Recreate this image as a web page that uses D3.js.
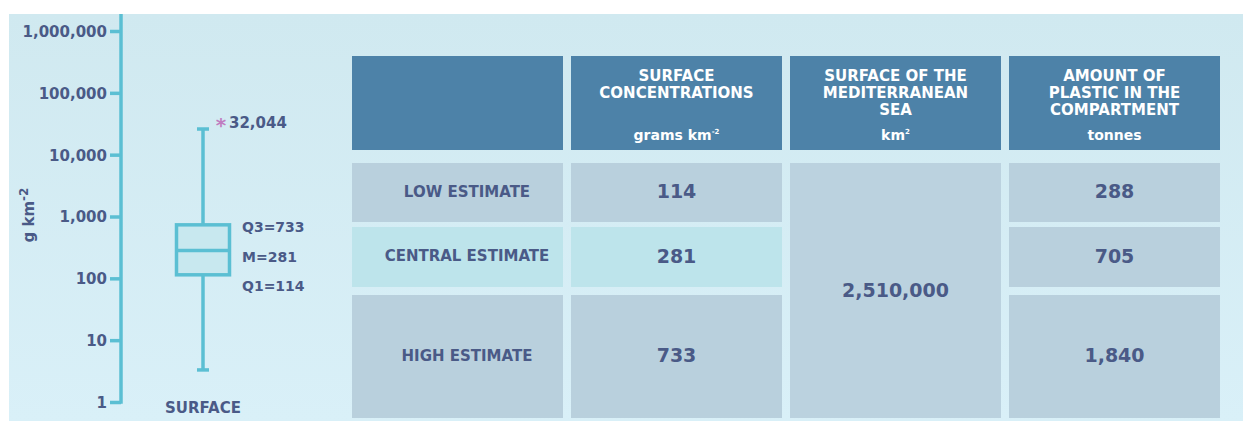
<!DOCTYPE html>
<html>
<head>
<meta charset="utf-8">
<script src="https://cdn.jsdelivr.net/npm/d3@7"></script>
<style>
    html, body { margin: 0; padding: 0; background: #ffffff; }
    svg { display: block; }
    text { font-family: "DejaVu Sans", sans-serif; font-weight: bold; }
</style>
</head>
<body>
<div id="chart"></div>
<script>
// Box plot values (g km-2)
const axisTicks = [1, 10, 100, 1000, 10000, 100000, 1000000];
const boxStats = { low: 3.3, q1: 114, median: 281, q3: 733, high: 26000 };
const outlierValue = 32044;
const boxLabels = ["Q3=733", "M=281", "Q1=114"];
const boxCategory = "SURFACE";

// Table values
const headerLines = [
    [],
    ["SURFACE", "CONCENTRATIONS"],
    ["SURFACE OF THE", "MEDITERRANEAN", "SEA"],
    ["AMOUNT OF", "PLASTIC IN THE", "COMPARTMENT"]
];
const headerUnits = [
    null,
    { base: "grams km", sup: "-2" },
    { base: "km", sup: "2" },
    { base: "tonnes", sup: "" }
];
const rowLabels = ["LOW ESTIMATE", "CENTRAL ESTIMATE", "HIGH ESTIMATE"];
const concentrations = [114, 281, 733];
const seaSurface = 2510000;
const plasticTonnes = [288, 705, 1840];

const width = 1243;
const height = 421;
const textColor = "#4a5a87";
const cyan = "#5bbfd3";
const fmt = d3.format(",");

const svg = d3.select("#chart")
    .append("svg")
    .attr("width", width)
    .attr("height", height);

// Background panel with a soft vertical gradient
const grad = svg.append("defs").append("linearGradient")
    .attr("id", "panelGrad")
    .attr("x1", 0).attr("y1", 0).attr("x2", 0).attr("y2", 1);
grad.append("stop").attr("offset", "0%").attr("stop-color", "#d0e9f0");
grad.append("stop").attr("offset", "100%").attr("stop-color", "#d9f0f8");

const panelTop = 14;
svg.append("rect")
    .attr("x", 9).attr("y", panelTop)
    .attr("width", width - 9).attr("height", height - panelTop)
    .attr("fill", "url(#panelGrad)");

// baseline for a text whose cap centre should sit at cy
function capBase(cy, size) {
    return cy + size * 0.36;
}

// ---------- Box plot ----------
const y = d3.scaleLog()
    .domain([1, 1000000])
    .range([402, 31]);

const axisX = 121;
const yAxis = d3.axisLeft(y)
    .tickValues(axisTicks)
    .tickFormat(fmt)
    .tickSize(11)
    .tickSizeOuter(0)
    .tickPadding(3);

const axisG = svg.append("g")
    .attr("transform", `translate(${axisX},0)`)
    .call(yAxis);

axisG.select(".domain").remove();
axisG.selectAll(".tick line")
    .attr("stroke", cyan)
    .attr("stroke-width", 3.5);
axisG.selectAll(".tick text")
    .attr("fill", textColor)
    .attr("font-size", 15)
    .attr("font-family", "DejaVu Sans, sans-serif")
    .attr("font-weight", "bold")
    .attr("dy", "0.36em");

// main vertical axis line, running up to the top of the panel
svg.append("line")
    .attr("x1", axisX).attr("x2", axisX)
    .attr("y1", y(1) + 1.75).attr("y2", panelTop)
    .attr("stroke", cyan)
    .attr("stroke-width", 3.5);

// y axis title
const yTitle = svg.append("text")
    .attr("transform", `translate(34,215) rotate(-90)`)
    .attr("text-anchor", "middle")
    .attr("fill", textColor)
    .attr("font-size", 15);
yTitle.append("tspan").text("g km");
yTitle.append("tspan").attr("dy", -6).attr("font-size", 12).text("-2");

const boxX = 203;
const boxW = 53;
const capW = 12;

const boxG = svg.append("g")
    .attr("stroke", cyan)
    .attr("stroke-width", 3.5)
    .attr("fill", "none");

// whiskers
boxG.append("line")
    .attr("x1", boxX).attr("x2", boxX)
    .attr("y1", y(boxStats.high)).attr("y2", y(boxStats.q3));
boxG.append("line")
    .attr("x1", boxX).attr("x2", boxX)
    .attr("y1", y(boxStats.q1)).attr("y2", y(boxStats.low));
boxG.selectAll(".cap")
    .data([boxStats.high, boxStats.low])
    .enter().append("line")
    .attr("class", "cap")
    .attr("x1", boxX - capW / 2).attr("x2", boxX + capW / 2)
    .attr("y1", d => y(d)).attr("y2", d => y(d));

// box
boxG.append("rect")
    .attr("x", boxX - boxW / 2)
    .attr("y", y(boxStats.q3))
    .attr("width", boxW)
    .attr("height", y(boxStats.q1) - y(boxStats.q3))
    .attr("fill", "#c8e8ef");
boxG.append("line")
    .attr("x1", boxX - boxW / 2).attr("x2", boxX + boxW / 2)
    .attr("y1", y(boxStats.median)).attr("y2", y(boxStats.median));

// outlier marker and value
svg.append("text")
    .attr("x", 221)
    .attr("y", y(outlierValue) + 9)
    .attr("text-anchor", "middle")
    .attr("fill", "#c07cc0")
    .attr("font-size", 20)
    .text("*");
svg.append("text")
    .attr("x", 229)
    .attr("y", capBase(y(outlierValue) - 1, 15))
    .attr("fill", textColor)
    .attr("font-size", 15)
    .text(fmt(outlierValue));

// quartile labels, evenly spaced beside the box
svg.selectAll(".qlabel")
    .data(boxLabels)
    .enter().append("text")
    .attr("class", "qlabel")
    .attr("x", 242)
    .attr("y", (d, i) => capBase(227 + i * 29.5, 14))
    .attr("fill", textColor)
    .attr("font-size", 14)
    .text(d => d);

svg.append("text")
    .attr("x", boxX)
    .attr("y", capBase(408, 15))
    .attr("text-anchor", "middle")
    .attr("fill", textColor)
    .attr("font-size", 15)
    .text(boxCategory);

// ---------- Table ----------
const col = d3.scaleBand()
    .domain(d3.range(4))
    .range([352, 1220])
    .paddingInner(8 / 219)
    .paddingOuter(0);

const header = { y0: 56, y1: 150 };
const rowBounds = [
    { y0: 163, y1: 222 },
    { y0: 227, y1: 287 },
    { y0: 295, y1: 418 }
];
const cellColor = "#b9d0dd";
const centralColor = "#bde4eb";

// header cells
const headG = svg.append("g");
headG.selectAll("rect")
    .data(headerLines)
    .enter().append("rect")
    .attr("x", (d, i) => col(i))
    .attr("y", header.y0)
    .attr("width", col.bandwidth())
    .attr("height", header.y1 - header.y0)
    .attr("fill", "#4d82a8");

headerLines.forEach((lines, i) => {
    const cx = col(i) + col.bandwidth() / 2;
    lines.forEach((line, j) => {
        headG.append("text")
            .attr("x", cx)
            .attr("y", capBase(76 + j * 17, 15))
            .attr("text-anchor", "middle")
            .attr("fill", "#ffffff")
            .attr("font-size", 15)
            .text(line);
    });
    const u = headerUnits[i];
    if (u) {
        const t = headG.append("text")
            .attr("x", cx)
            .attr("y", capBase(135, 14))
            .attr("text-anchor", "middle")
            .attr("fill", "#ffffff")
            .attr("font-size", 14);
        t.append("tspan").text(u.base);
        if (u.sup) t.append("tspan").attr("dy", -6).attr("font-size", 7).text(u.sup);
    }
});

// body cells: row labels, concentrations, tonnes
const bodyG = svg.append("g");
rowLabels.forEach((label, r) => {
    const b = rowBounds[r];
    const cy = (b.y0 + b.y1) / 2;
    const isCentral = r === 1;

    [0, 1, 3].forEach(c => {
        bodyG.append("rect")
            .attr("x", col(c))
            .attr("y", b.y0)
            .attr("width", col.bandwidth())
            .attr("height", b.y1 - b.y0)
            .attr("fill", isCentral && c < 2 ? centralColor : cellColor);
    });

    bodyG.append("text")
        .attr("x", col(0) + 115)
        .attr("y", capBase(cy - 1, 15))
        .attr("text-anchor", "middle")
        .attr("fill", textColor)
        .attr("font-size", 15)
        .text(label);

    bodyG.append("text")
        .attr("x", col(1) + col.bandwidth() / 2)
        .attr("y", capBase(cy - 1, 19))
        .attr("text-anchor", "middle")
        .attr("fill", textColor)
        .attr("font-size", 19)
        .text(fmt(concentrations[r]));

    bodyG.append("text")
        .attr("x", col(3) + col.bandwidth() / 2)
        .attr("y", capBase(cy - 1, 19))
        .attr("text-anchor", "middle")
        .attr("fill", textColor)
        .attr("font-size", 19)
        .text(fmt(plasticTonnes[r]));
});

// merged sea surface cell
const mergedTop = rowBounds[0].y0;
const mergedBottom = rowBounds[2].y1;
bodyG.append("rect")
    .attr("x", col(2))
    .attr("y", mergedTop)
    .attr("width", col.bandwidth())
    .attr("height", mergedBottom - mergedTop)
    .attr("fill", "#bbd2df");
bodyG.append("text")
    .attr("x", col(2) + col.bandwidth() / 2)
    .attr("y", capBase((mergedTop + mergedBottom) / 2, 19))
    .attr("text-anchor", "middle")
    .attr("fill", textColor)
    .attr("font-size", 19)
    .text(fmt(seaSurface));
</script>
</body>
</html>
